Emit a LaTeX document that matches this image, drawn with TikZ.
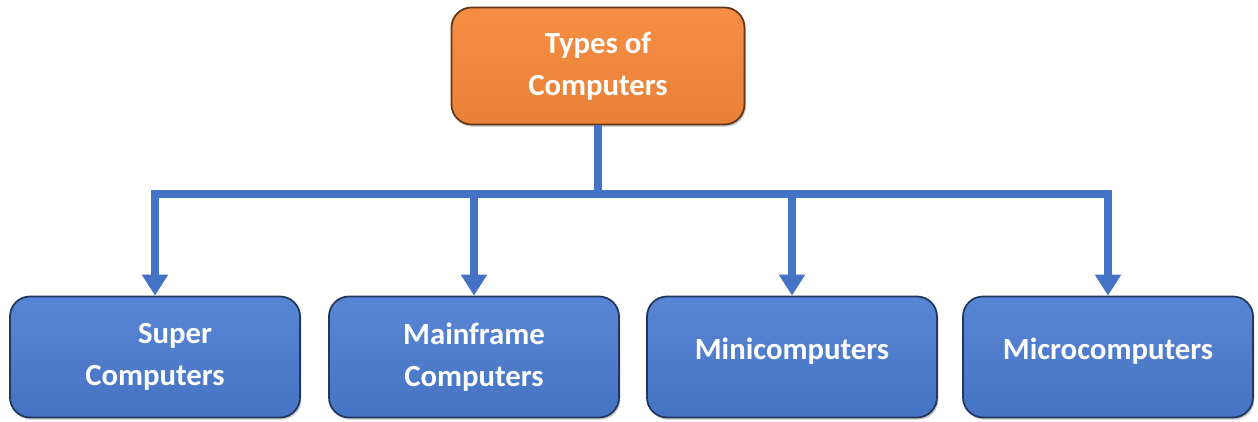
\documentclass[tikz,border=0pt]{standalone}
\usepackage{fontspec}
\setmainfont{Carlito}
\usepackage{tikz}
\usetikzlibrary{shapes,arrows,positioning,calc,shadows,arrows.meta}

\definecolor{boxblue}{HTML}{4A7BD0}
\definecolor{linkblue}{HTML}{4472C4}
\definecolor{boxorange}{HTML}{F5883A}

\tikzset{
    typebox/.style={rectangle, rounded corners=0.4cm, minimum width=5.8cm, minimum height=2.42cm,
        top color=boxblue!92!white, bottom color=boxblue!94!black, draw=boxblue!45!black, line width=1pt,
        drop shadow={shadow xshift=0.8pt, shadow yshift=-1.2pt, opacity=0.45},
        text=white, align=center, font=\fontsize{17.5}{24}\selectfont\bfseries},
    rootbox/.style={typebox, minimum width=5.86cm, minimum height=2.34cm,
        top color=boxorange!95!white, bottom color=boxorange!95!black, draw=boxorange!40!black},
    link/.style={linkblue, line width=4.5pt, line join=miter},
    linkarrow/.style={link, -{Triangle[width=0.5cm,length=0.42cm]}}
}

\begin{document}
\begin{tikzpicture}
    \useasboundingbox (0,0) rectangle (25.16,8.44);

    \node[rootbox] (types) at (11.96,7.12) {Types of\\Computers};

    \node[typebox] (super) at (3.10,1.30) {\hspace*{0.8cm}Super\\Computers};
    \node[typebox] (mainframe) at (9.48,1.30) {Mainframe\\Computers};
    \node[typebox, text depth=0.32cm] (mini) at (15.84,1.30) {Minicomputers};
    \node[typebox, text depth=0.32cm] (micro) at (22.16,1.30) {Microcomputers};

    \coordinate (bar) at (11.96,4.56);
    \draw[link] (types) -- (bar);
    \draw[linkarrow] (bar) -| (super);
    \draw[linkarrow] (bar) -| (mainframe);
    \draw[linkarrow] (bar) -| (mini);
    \draw[linkarrow] (bar) -| (micro);
\end{tikzpicture}
\end{document}
